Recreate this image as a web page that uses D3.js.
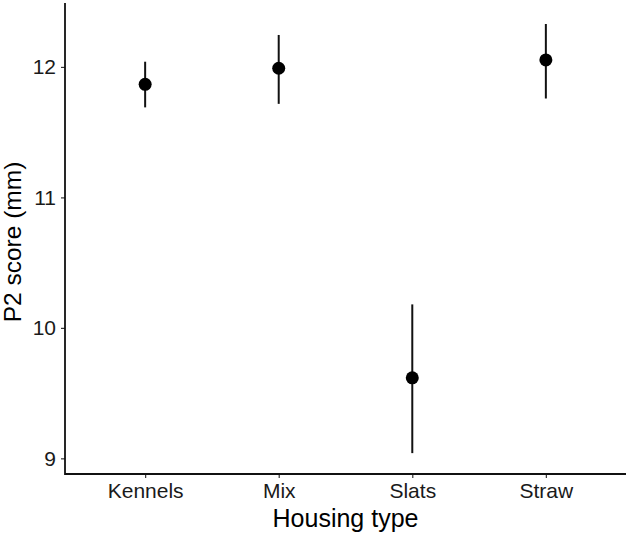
<!DOCTYPE html>
<html>
<head>
<meta charset="utf-8">
<script src="https://cdn.jsdelivr.net/npm/d3@7"></script>
<style>
  html, body { margin: 0; padding: 0; background: #fff; }
  svg { display: block; font-family: "Liberation Sans", Arial, sans-serif; }
</style>
</head>
<body>
<svg id="chart" width="629" height="537"></svg>
<script>
const categories = ["Kennels", "Mix", "Slats", "Straw"];
const means = [11.867, 11.99, 9.617, 12.054];
const lower = [11.69, 11.717, 9.04, 11.758];
const upper = [12.04, 12.245, 10.18, 12.329];
const yTicks = [9, 10, 11, 12];
const xTitle = "Housing type";
const yTitle = "P2 score (mm)";

(function () {
const svg = d3.select("#chart");
const mLeft = 65, mRight = 626, mTop = 3, mBottom = 474;

const x = d3.scalePoint().domain(categories).range([mLeft, mRight]).padding(0.6);
const y = d3.scaleLinear().domain([8.88, 12.49]).range([mBottom, mTop]);

// axes
const yAxis = d3.axisLeft(y).tickValues(yTicks).tickSize(4).tickPadding(5).tickFormat(d3.format("d"));
const gy = svg.append("g").attr("transform", `translate(${mLeft},0)`).call(yAxis);
gy.select(".domain").remove();
gy.selectAll(".tick line").attr("stroke", "#333").attr("stroke-width", 1.2);
gy.selectAll(".tick text").attr("font-size", 21).attr("fill", "#1a1a1a").attr("font-family", "Liberation Sans, Arial, sans-serif");

const xAxis = d3.axisBottom(x).tickSize(4).tickPadding(5);
const gx = svg.append("g").attr("transform", `translate(0,${mBottom})`).call(xAxis);
gx.select(".domain").remove();
gx.selectAll(".tick line").attr("stroke", "#333").attr("stroke-width", 1.2);
gx.selectAll(".tick text").attr("font-size", 21).attr("fill", "#1a1a1a").attr("font-family", "Liberation Sans, Arial, sans-serif");

// axis lines (L-shape)
svg.append("path")
  .attr("d", `M${mLeft},${mTop}V${mBottom}H${mRight}`)
  .attr("fill", "none").attr("stroke", "#111").attr("stroke-width", 1.8);

// error bars
const g = svg.append("g");
g.selectAll("line.err").data(categories).join("line")
  .attr("class", "err")
  .attr("x1", d => x(d)).attr("x2", d => x(d))
  .attr("y1", (d, i) => y(lower[i])).attr("y2", (d, i) => y(upper[i]))
  .attr("stroke", "#111").attr("stroke-width", 2);
g.selectAll("circle").data(categories).join("circle")
  .attr("cx", d => x(d)).attr("cy", (d, i) => y(means[i]))
  .attr("r", 6.5).attr("fill", "#000");

// titles
svg.append("text")
  .attr("x", (mLeft + mRight) / 2).attr("y", 527)
  .attr("text-anchor", "middle").attr("font-size", 25).attr("fill", "#000")
  .text(xTitle);
svg.append("text")
  .attr("transform", `translate(21,242) rotate(-90)`)
  .attr("text-anchor", "middle").attr("font-size", 24.5).attr("fill", "#000")
  .text(yTitle);
})();
</script>
</body>
</html>
